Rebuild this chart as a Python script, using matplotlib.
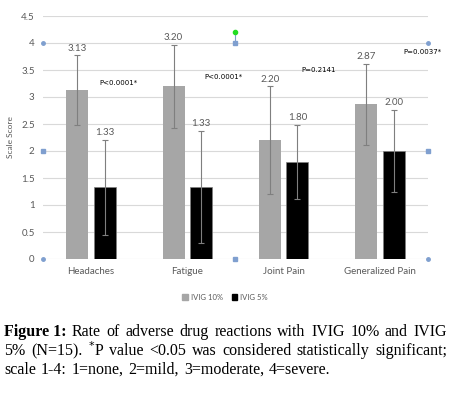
import matplotlib.pyplot as plt
import numpy as np

categories = ['Headaches', 'Fatigue', 'Joint Pain', 'Generalized Pain']
ivig10 = [3.13, 3.20, 2.20, 2.87]
ivig5 = [1.33, 1.33, 1.80, 2.00]
err10 = [0.64, 0.77, 1.00, 0.75]
err5 = [0.88, 1.04, 0.68, 0.76]
p_labels = ['P<0.0001*', 'P<0.0001*', 'P=0.2141', 'P=0.0037*']
p_y = [3.26, 3.37, 3.50, 3.83]
p_dx = [0.28, 0.37, 0.36, 0.44]
yticks = [0, 0.5, 1, 1.5, 2, 2.5, 3, 3.5, 4, 4.5]

caption = [
    "Rate of adverse drug reactions with IVIG 10% and IVIG",
    "5% (N=15). $^{*}$P value <0.05 was considered statistically significant;",
    "scale 1-4: 1=none, 2=mild, 3=moderate, 4=severe.",
]

txt = '#595959'
fig = plt.figure(figsize=(4.5, 3.94), dpi=100)
ax = fig.add_axes([43/450, 1-259/394, 385/450, 243/394])

x = np.arange(len(categories))
w = 0.23
off = 0.143
ax.bar(x - off, ivig10, w, color='#a6a6a6', zorder=2)
ax.bar(x + off, ivig5, w, color='black', edgecolor='#7f7f7f', linewidth=0.5, zorder=2)
ekw = dict(fmt='none', ecolor='#7f7f7f', elinewidth=0.8, capsize=2, capthick=0.8, zorder=3)
ax.errorbar(x - off, ivig10, yerr=err10, **ekw)
ax.errorbar(x + off, ivig5, yerr=err5, **ekw)

for i in range(len(categories)):
    ax.text(x[i] - off, ivig10[i] + err10[i] + 0.05, f'{ivig10[i]:.2f}', ha='center', va='bottom',
            fontsize=7, color=txt, family='Lato')
    ax.text(x[i] + off, ivig5[i] + err5[i] + 0.05, f'{ivig5[i]:.2f}', ha='center', va='bottom',
            fontsize=7, color=txt, family='Lato')
    ax.text(x[i] + p_dx[i], p_y[i], p_labels[i], ha='center', va='center', fontsize=5, color='black')

ax.set_xlim(-0.5, 3.5)
ax.set_ylim(0, 4.5)
ax.set_yticks(yticks)
ax.set_yticklabels([f'{t:g}' for t in yticks])
ax.set_xticks(x)
ax.set_xticklabels(categories)
ax.tick_params(length=0, labelsize=7, labelcolor=txt, pad=6)
for lab in ax.get_xticklabels() + ax.get_yticklabels():
    lab.set_family('Lato')
ax.yaxis.grid(True, color='#d9d9d9', linewidth=0.8, zorder=0)
ax.set_axisbelow(True)
for s in ax.spines.values():
    s.set_visible(False)
ax.set_ylabel('Scale Score', fontsize=6, color=txt, family='Lato', labelpad=5)

# selection handles left over from the source screenshot
hc = '#7f9fcf'
ax.plot([1.5, 1.5], [4, 4.2], color=hc, linewidth=0.8, clip_on=False, zorder=4)
ax.plot([1.5], [4.2], 'o', color='#22dd22', markersize=3, clip_on=False, zorder=5)
for px, py, m in [(-0.5, 4, 'o'), (-0.5, 2, 's'), (-0.5, 0, 'o'), (1.5, 4, 's'), (1.5, 0, 's'),
                  (3.5, 4, 'o'), (3.5, 2, 's'), (3.5, 0, 'o')]:
    ax.plot([px], [py], m, color=hc, markersize=2.5, clip_on=False, zorder=5)

handles = [plt.Rectangle((0, 0), 1, 1, color='#a6a6a6'), plt.Rectangle((0, 0), 1, 1, color='black')]
fig.legend(handles, ['IVIG 10%', 'IVIG 5%'], loc='center', bbox_to_anchor=(0.5, 1-297/394), ncol=2,
           frameon=False, prop={'size': 5.5, 'family': 'Lato'}, labelcolor=txt,
           handlelength=0.7, handleheight=0.7, handletextpad=0.4, columnspacing=1.2)

# caption, justified by hand
fig.canvas.draw()
r = fig.canvas.get_renderer()
cap_fs = 11.5
x0, x1 = 4/450, 447/450
lines_y = [1-332/394, 1-351/394, 1-370/394]
bold = fig.text(x0, lines_y[0], 'Figure 1:', fontsize=cap_fs, family='Liberation Serif', weight='bold',
                va='center')
bw = bold.get_window_extent(r).width / fig.bbox.width
for li, line in enumerate(caption):
    words = line.split(' ')
    start = x0 + (bw + 0.012 if li == 0 else 0)
    objs = [fig.text(start, lines_y[li], wd, fontsize=cap_fs, family='Liberation Serif', va='center')
            for wd in words]
    widths = [o.get_window_extent(r).width / fig.bbox.width for o in objs]
    if li < len(caption) - 1:
        gap = (x1 - start - sum(widths)) / (len(words) - 1)
    else:
        gap = 0.011
    cx = start
    for o, wdt in zip(objs, widths):
        o.set_x(cx)
        cx += wdt + gap

fig.savefig('out.png', dpi=100)
